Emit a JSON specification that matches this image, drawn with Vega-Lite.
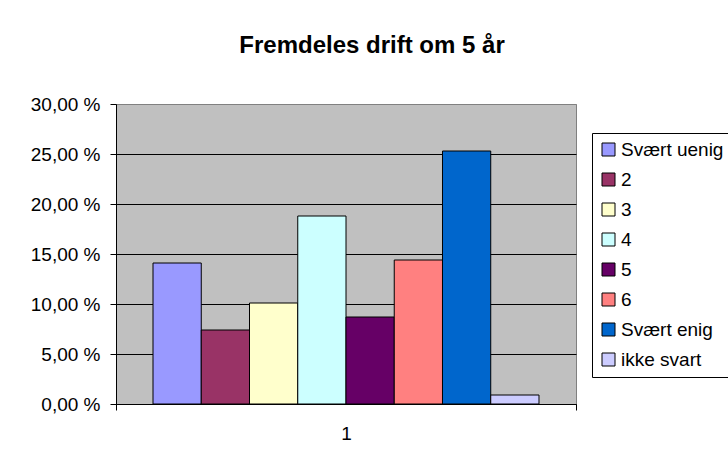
{
  "$schema": "https://vega.github.io/schema/vega-lite/v6.json",
  "autosize": {"type": "none"},
  "width": 460,
  "height": 300,
  "padding": {"left": 116, "top": 104, "right": 152, "bottom": 55},
  "background": "white",
  "title": {
    "text": "Fremdeles drift om 5 år",
    "font": "Liberation Sans",
    "fontSize": 24,
    "fontWeight": "bold",
    "color": "black",
    "anchor": "middle",
    "frame": "group",
    "dx": 26,
    "offset": 37
  },
  "data": {
    "values": [
      {"cat": "1", "serie": "Svært uenig", "value": 14.1},
      {"cat": "1", "serie": "2", "value": 7.4},
      {"cat": "1", "serie": "3", "value": 10.1},
      {"cat": "1", "serie": "4", "value": 18.8},
      {"cat": "1", "serie": "5", "value": 8.7},
      {"cat": "1", "serie": "6", "value": 14.4},
      {"cat": "1", "serie": "Svært enig", "value": 25.3},
      {"cat": "1", "serie": "ikke svart", "value": 0.9}
    ]
  },
  "mark": {"type": "bar", "stroke": "black", "strokeWidth": 1, "opacity": 1},
  "encoding": {
    "x": {
      "field": "cat",
      "type": "nominal",
      "scale": {"paddingInner": 0, "paddingOuter": 0},
      "axis": {
        "title": null,
        "labelAngle": 0,
        "tickBand": "extent",
        "labelFont": "Liberation Sans",
        "labelFontSize": 19,
        "labelColor": "black",
        "domainColor": "black",
        "tickColor": "black",
        "tickSize": 6,
        "labelPadding": 14
      }
    },
    "xOffset": {
      "field": "serie",
      "type": "nominal",
      "sort": ["Svært uenig", "2", "3", "4", "5", "6", "Svært enig", "ikke svart"],
      "scale": {"paddingInner": 0, "paddingOuter": 0.767}
    },
    "y": {
      "field": "value",
      "type": "quantitative",
      "scale": {"domain": [0, 30], "nice": false},
      "axis": {
        "title": null,
        "values": [0, 5, 10, 15, 20, 25, 30],
        "labelExpr": "replace(format(datum.value, '.2f'), '.', ',') + ' %'",
        "labelFont": "Liberation Sans",
        "labelFontSize": 19,
        "labelColor": "black",
        "domainColor": "black",
        "tickColor": "black",
        "tickSize": 6,
        "labelPadding": 10,
        "grid": true,
        "gridColor": {"condition": {"test": "datum.value == 30", "value": "#808080"}, "value": "black"},
        "gridWidth": 1,
        "gridOpacity": 1
      }
    },
    "color": {
      "field": "serie",
      "type": "nominal",
      "sort": ["Svært uenig", "2", "3", "4", "5", "6", "Svært enig", "ikke svart"],
      "scale": {
        "domain": ["Svært uenig", "2", "3", "4", "5", "6", "Svært enig", "ikke svart"],
        "range": ["#9999FF", "#993366", "#FFFFCC", "#CCFFFF", "#660066", "#FF8080", "#0066CC", "#CCCCFF"]
      },
      "legend": {
        "title": null,
        "orient": "none",
        "legendX": 476,
        "legendY": 29,
        "symbolType": "square",
        "symbolSize": 169,
        "symbolStrokeColor": "black",
        "symbolStrokeWidth": 1,
        "symbolOpacity": 1,
        "labelFont": "Liberation Sans",
        "labelFontSize": 19,
        "labelColor": "black",
        "labelOffset": 3,
        "labelLimit": 300,
        "strokeColor": "black",
        "fillColor": "white",
        "padding": 7,
        "rowPadding": 10
      }
    }
  },
  "config": {
    "view": {"fill": "#C0C0C0", "stroke": "#808080", "strokeWidth": 1}
  }
}
